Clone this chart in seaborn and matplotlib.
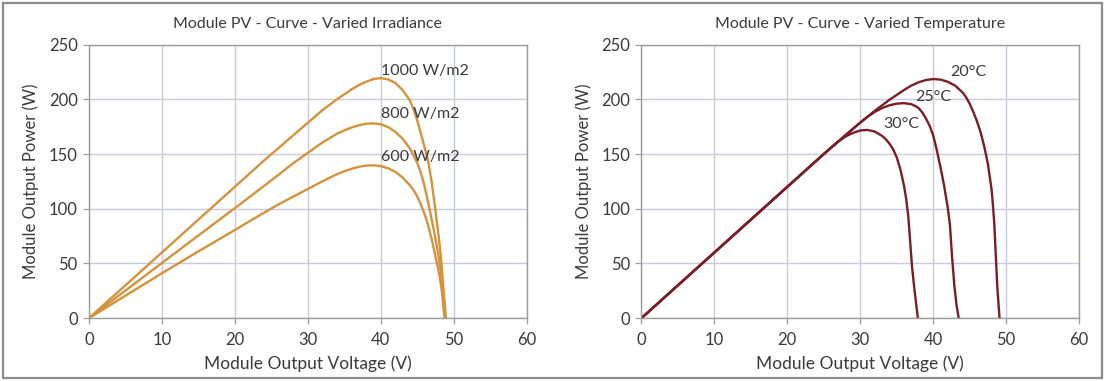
import matplotlib
matplotlib.use("Agg")
import matplotlib.pyplot as plt
import matplotlib.patches as mpatches
import seaborn as sns
import pandas as pd

# ---------------- data ----------------
v_1000 = [0, 5, 10, 15, 20, 22, 24, 26, 28, 30, 32, 34, 35, 36, 37, 38, 39, 40, 41, 42, 43, 44, 44.5, 45, 45.5, 46, 46.5, 47, 47.5, 48, 48.3, 48.6, 48.95]
p_1000 = [0, 30, 60, 90, 120, 132, 144, 155.5, 167, 178.5, 190, 200, 204.5, 209, 213, 216, 218.5, 219.3, 218.2, 215, 208.5, 199, 191, 181, 169, 156.5, 144, 124, 99, 72, 53, 27, 0]

v_800 = [0, 5, 10, 15, 20, 22, 24, 26, 28, 30, 32, 34, 35, 36, 37, 38, 39, 40, 41, 42, 43, 44, 44.5, 45, 45.5, 46, 46.5, 47, 47.5, 48, 48.3, 48.6, 48.85]
p_800 = [0, 25.2, 50.4, 75.5, 100.5, 110.6, 120.8, 131, 141.5, 151, 160.5, 168.5, 171.5, 174.2, 176.3, 177.6, 178, 177.2, 174.7, 170.3, 164, 155, 149, 142, 133, 121, 106, 90, 73, 54, 40, 20, 0]

v_600 = [0, 5, 10, 15, 20, 22, 24, 26, 28, 30, 32, 34, 35, 36, 37, 38, 39, 40, 41, 42, 43, 44, 44.5, 45, 45.5, 46, 46.5, 47, 47.5, 48, 48.3, 48.5, 48.75]
p_600 = [0, 20.5, 41, 61, 80.5, 88.5, 96.3, 104, 111, 118, 125, 131.5, 134.2, 136.5, 138.3, 139.4, 139.7, 139, 137, 133.7, 128.5, 121.5, 117, 111.5, 104, 95.5, 85, 72, 57, 41, 29, 18, 0]

irr_labels = ["1000 W/m2", "800 W/m2", "600 W/m2"]

v_20 = [0, 5, 10, 15, 20, 22, 24, 26, 28, 30, 32, 34, 35, 36, 37, 38, 39, 40, 41, 42, 43, 44, 44.5, 45, 45.5, 46, 46.5, 47, 47.5, 48, 48.2, 48.4, 48.6, 48.8, 49.1]
p_20 = [0, 30, 60, 90, 120, 132, 144, 155.8, 167.3, 178.7, 189.5, 199.5, 204, 208.5, 212.5, 215.5, 217.6, 218.5, 218, 216, 212.5, 206.5, 202, 196, 188.5, 180, 170, 157, 141, 118, 103, 84, 55, 28, 0]

v_25 = [0, 5, 10, 15, 20, 22, 24, 26, 28, 30, 31, 32, 33, 34, 35, 36, 37, 37.5, 38, 38.5, 39, 39.5, 40, 40.5, 41, 41.5, 42, 42.3, 42.6, 42.9, 43.2, 43.5]
p_25 = [0, 30, 60, 90, 120, 132, 144, 155.8, 167.3, 178.7, 184, 188.5, 192, 194.5, 196, 196.5, 195.5, 194, 192, 188, 182.5, 176, 167, 153.5, 138, 121, 101, 85, 55, 30, 12, 0]

v_30 = [0, 5, 10, 15, 20, 22, 24, 25, 26, 27, 28, 29, 30, 31, 32, 33, 33.5, 34, 34.5, 35, 35.5, 36, 36.3, 36.6, 36.9, 37.1, 37.4, 37.7, 37.9]
p_30 = [0, 30, 60, 90, 120, 132, 144, 150, 155.8, 161.5, 166, 169.3, 171.5, 172, 170.5, 166.5, 163.5, 159.5, 154.5, 147, 136, 121, 109, 92, 65, 47, 28, 11, 0]

temp_labels = ["20°C", "25°C", "30°C"]

x_ticks = [0, 10, 20, 30, 40, 50, 60]
y_ticks = [0, 50, 100, 150, 200, 250]

titles = ["Module PV - Curve - Varied Irradiance", "Module PV - Curve - Varied Temperature"]
x_label = "Module Output Voltage (V)"
y_label = "Module Output Power (W)"

# ---------------- build frames ----------------
def frame(vs, ps, names):
    rows = []
    for v, p, n in zip(vs, ps, names):
        for i, (a, b) in enumerate(zip(v, p)):
            rows.append({"V": a, "P": b, "series": n, "order": i})
    return pd.DataFrame(rows)

df_irr = frame([v_1000, v_800, v_600], [p_1000, p_800, p_600], irr_labels)
df_tmp = frame([v_20, v_25, v_30], [p_20, p_25, p_30], temp_labels)

# ---------------- style ----------------
sns.set_style("whitegrid")
plt.rcParams["font.family"] = ["Lato", "DejaVu Sans"]

fig = plt.figure(figsize=(11.05, 3.81), dpi=100)
ax1 = fig.add_axes([0.0805, 0.165, 0.396, 0.718])
ax2 = fig.add_axes([0.5805, 0.165, 0.396, 0.718])

orange = "#d6923a"
maroon = "#7a1d26"

sns.lineplot(data=df_irr, x="V", y="P", hue="series", palette=[orange] * 3,
             sort=False, estimator=None, units="series", legend=False,
             linewidth=1.7, ax=ax1)
sns.lineplot(data=df_tmp, x="V", y="P", hue="series", palette=[maroon] * 3,
             sort=False, estimator=None, units="series", legend=False,
             linewidth=1.7, ax=ax2)

text_col = "#3a3a3a"
for ax, title in zip([ax1, ax2], titles):
    ax.set_xlim(0, 60)
    ax.set_ylim(0, 250)
    ax.set_xticks(x_ticks)
    ax.set_yticks(y_ticks)
    ax.grid(True, color="#c8cade", linewidth=1.0)
    for s in ax.spines.values():
        s.set_color("#9c9c9c")
        s.set_linewidth(1.0)
    ax.tick_params(axis="both", which="major", length=4, width=0.9,
                   color="#9c9c9c", labelsize=12, labelcolor=text_col)
    ax.tick_params(axis="y", left=True, pad=4)
    ax.tick_params(axis="x", bottom=True, pad=6)
    ax.set_title(title, fontsize=11.5, color=text_col, pad=12)
    ax.set_xlabel(x_label, fontsize=12.5, color=text_col, labelpad=5)
    ax.set_ylabel(y_label, fontsize=12, color=text_col, labelpad=7)

# curve labels
irr_label_pos = [(40.1, 226), (40.1, 187), (40.1, 147)]
for (x, y), t in zip(irr_label_pos, irr_labels):
    ax1.text(x, y, t, fontsize=11.5, color=text_col, va="center", ha="left")

tmp_label_pos = [(42.3, 225), (37.6, 202), (33.1, 177)]
for (x, y), t in zip(tmp_label_pos, temp_labels):
    ax2.text(x, y, t, fontsize=11.5, color=text_col, va="center", ha="left")

# outer frame
fig.patches.append(mpatches.Rectangle((0.003, 0.008), 0.994, 0.984, transform=fig.transFigure,
                                      fill=False, edgecolor="#8c8c8c", linewidth=1.6))

fig.savefig("out.png", dpi=100)
